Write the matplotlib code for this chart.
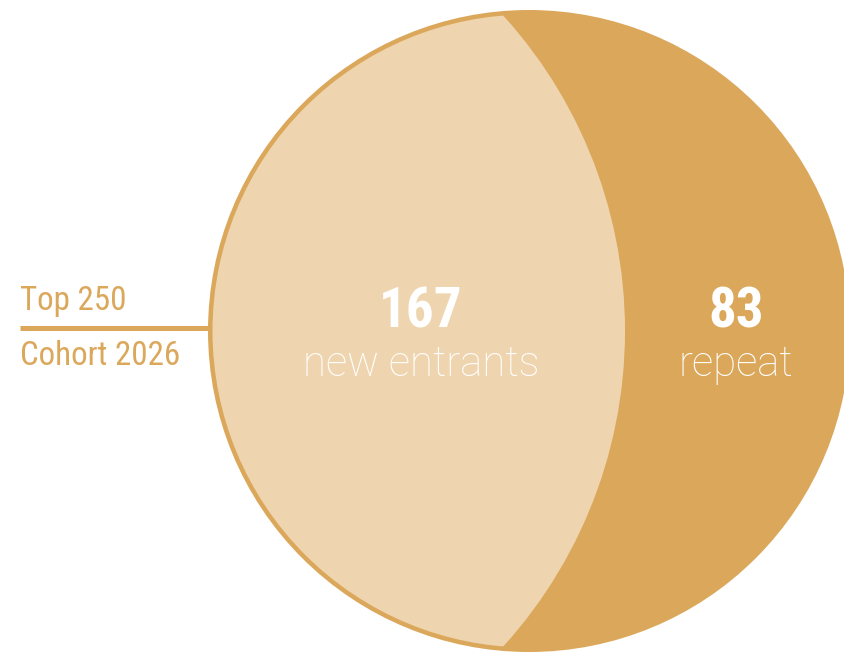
import matplotlib
matplotlib.use("Agg")
import matplotlib.pyplot as plt
from matplotlib.patches import Circle

# chart data
segment_labels = ["new entrants", "repeat"]
segment_values = [167, 83]
side_labels = ["Top 250", "Cohort 2026"]

DARK = "#DBA85B"
LIGHT = "#EFD5AF"
W, H = 845, 654
PX = 72 / 100  # points per pixel at dpi 100

fig = plt.figure(figsize=(W / 100, H / 100), dpi=100)
ax = fig.add_axes([0, 0, 1, 1])
ax.set_xlim(0, W)
ax.set_ylim(H, 0)
ax.set_aspect("equal")
ax.axis("off")

# main circle and the lens-shaped light part
cx, cy, r = 529, 331, 321
ax.add_patch(Circle((cx, cy), r, facecolor=DARK, edgecolor="none"))
inner = Circle((cx, cy), r - 4.5, facecolor="none", edgecolor="none")
ax.add_patch(inner)
lens = Circle((155.5, cy), 469.5, facecolor=LIGHT, edgecolor="none")
ax.add_patch(lens)
lens.set_clip_path(inner)

# connector on the left
ax.plot([20, cx - r + 2], [328, 328], color=DARK, lw=5 * PX, solid_capstyle="butt")
narrow = ["Liberation Sans Narrow", "Roboto Condensed", "DejaVu Sans"]
for y, lab in zip([310, 365], side_labels):
    ax.text(20, y, lab, color=DARK, fontsize=33 * PX, family=narrow,
            ha="left", va="baseline")

# segment labels
centers = [421, 736]
for x, val, lab in zip(centers, segment_values, segment_labels):
    ax.text(x, 328, str(val), color="white", fontsize=55 * PX, fontweight="bold",
            family=narrow, ha="center", va="baseline")
    ax.text(x, 376, lab, color="white", fontsize=42 * PX, fontweight="light",
            family=["Roboto", "DejaVu Sans"], ha="center", va="baseline")

fig.savefig("out.png", dpi=100)
